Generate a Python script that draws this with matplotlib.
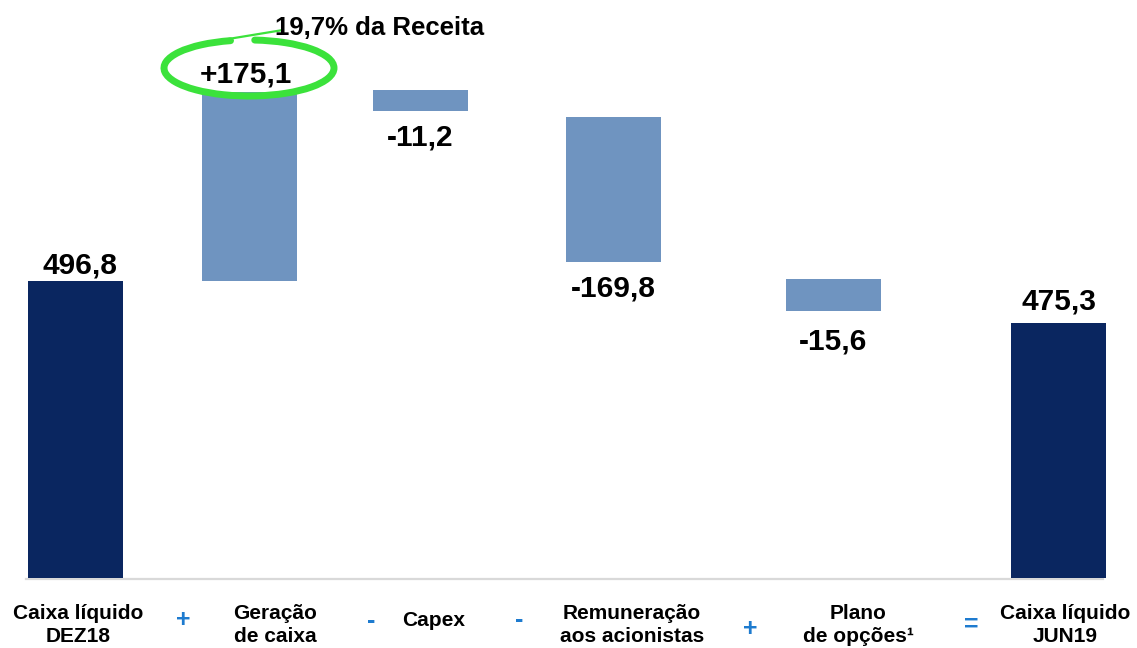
import matplotlib.pyplot as plt
from matplotlib.patches import Arc

plt.rcParams['font.family'] = ['Liberation Sans', 'DejaVu Sans']

# categorias e valores do grafico
categorias = ["Caixa líquido\nDEZ18", "Geração\nde caixa", "Capex",
              "Remuneração\naos acionistas", "Plano\nde opções¹", "Caixa líquido\nJUN19"]
valores = [496.8, 175.1, -11.2, -169.8, -15.6, 475.3]
rotulos = ["496,8", "+175,1", "-11,2", "-169,8", "-15,6", "475,3"]
operadores = ["+", "-", "-", "+", "="]
# o desenho original nao esta em escala: extremos das barras
barra_base = [0, 497, 781, 529, 447, 0]
barra_topo = [496.8, 813, 816, 771, 500, 427]
destaque = "19,7% da Receita"

# layout (pixels da figura)
x_barra = [75.5, 249.5, 420.5, 613.5, 833.5, 1058.5]
x_cat = [78, 275, 434, 632, 858, 1065]
x_op = [183, 371, 519, 750, 971]
y_op = [620, 621, 620, 629, 625]
escala = 496.8 / 297  # unidades por pixel


def py(pix):
    return (578 - pix) * escala


fig = plt.figure(figsize=(11.37, 6.48), dpi=100)
ax = fig.add_axes([0, 0, 1, 1])
ax.set_xlim(0, 1137)
ax.set_ylim(py(648), py(0))
ax.axis('off')

ax.plot([26, 1103], [py(579), py(579)], color='#D9D9D9', lw=1.6, zorder=1)

for i, v in enumerate(valores):
    cor = '#0A2660' if i in (0, len(valores) - 1) else '#6F94C0'
    ax.bar(x_barra[i], barra_topo[i] - barra_base[i], bottom=barra_base[i],
           width=95, color=cor, zorder=2)
    if v >= 0:
        gap = [7, 9, 0, 0, 0, 13][i]
        ax.annotate(rotulos[i], (x_barra[i] + (4 if i == 0 else 0) - (4 if i == 1 else 0), barra_topo[i]),
                    xytext=(0, gap * 0.72), textcoords='offset points',
                    ha='center', va='baseline', fontsize=21.5, fontweight='bold', zorder=4)
    else:
        gap = [0, 0, 34, 35, 39, 0][i]
        ax.annotate(rotulos[i], (x_barra[i], barra_base[i]),
                    xytext=(0, -gap * 0.72), textcoords='offset points',
                    ha='center', va='baseline', fontsize=21.5, fontweight='bold', zorder=4)

for i, c in enumerate(categorias):
    ax.text(x_cat[i], py(625 if '\n' in c else 621), c, ha='center', va='center',
            fontsize=15, fontweight='bold', linespacing=1.25)

for i, op in enumerate(operadores):
    ax.text(x_op[i], py(y_op[i]), op, ha='center', va='center',
            fontsize=18, fontweight='bold', color='#1E7BCF')

# elipse verde em torno da geracao de caixa
verde = '#3BE23B'
ax.add_patch(Arc((249, py(68)), 170, 56 * escala, theta1=112, theta2=443,
                 color=verde, lw=5, zorder=5, capstyle='round'))
ax.plot([210, 283], [py(42), py(30)], color=verde, lw=1.6, zorder=5,
        solid_capstyle='round')

ax.text(275, py(35), destaque, ha='left', va='baseline',
        fontsize=18.5, fontweight='bold', zorder=6)

fig.savefig('out.png', dpi=100)
